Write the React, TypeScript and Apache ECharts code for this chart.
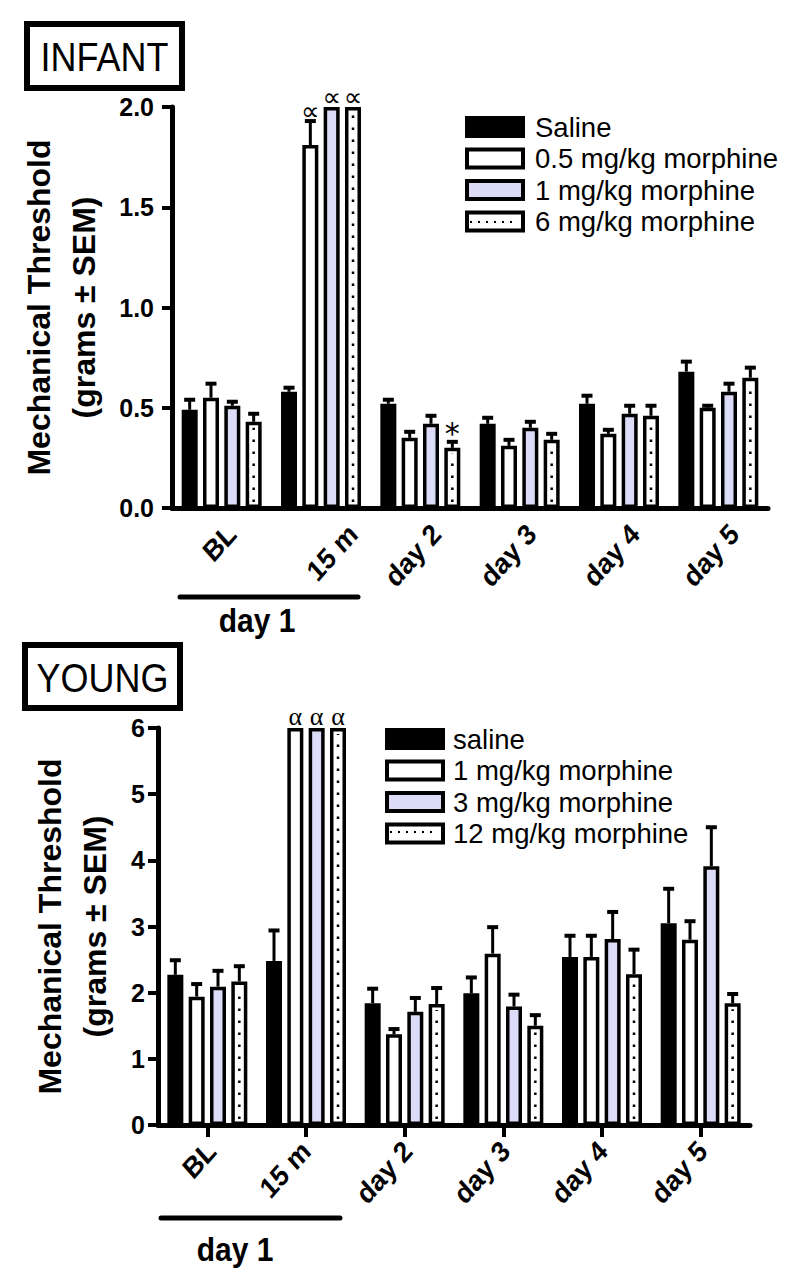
import React, { useEffect, useRef } from 'react';
import * as echarts from 'echarts';

// ---------- DATA ----------
const categories = ['BL', '15 m', 'day 2', 'day 3', 'day 4', 'day 5'];

const infantNames = ['Saline', '0.5 mg/kg morphine', '1 mg/kg morphine', '6 mg/kg morphine'];
const infantSaline = [0.49, 0.58, 0.52, 0.42, 0.52, 0.68];
const infantSalineSem = [0.05, 0.02, 0.02, 0.03, 0.04, 0.05];
const infantLow = [0.55, 1.81, 0.35, 0.31, 0.37, 0.5];
const infantLowSem = [0.07, 0.12, 0.03, 0.03, 0.02, 0.01];
const infantMid = [0.51, 2.0, 0.42, 0.4, 0.47, 0.58];
const infantMidSem = [0.02, 0, 0.04, 0.03, 0.04, 0.04];
const infantHigh = [0.43, 2.0, 0.3, 0.34, 0.46, 0.65];
const infantHighSem = [0.04, 0, 0.03, 0.03, 0.05, 0.05];
const infantMarksSaline = ['', '', '', '', '', ''];
const infantMarksLow = ['', '∝', '', '', '', ''];
const infantMarksMid = ['', '∝', '', '', '', ''];
const infantMarksHigh = ['', '∝', '*', '', '', ''];
const infantTicks = [0, 0.5, 1.0, 1.5, 2.0];

const youngNames = ['saline', '1 mg/kg morphine', '3 mg/kg morphine', '12 mg/kg morphine'];
const youngSaline = [2.27, 2.48, 1.84, 1.99, 2.54, 3.05];
const youngSalineSem = [0.22, 0.46, 0.22, 0.24, 0.32, 0.52];
const youngLow = [1.94, 6, 1.37, 2.59, 2.54, 2.8];
const youngLowSem = [0.19, 0, 0.08, 0.4, 0.32, 0.28];
const youngMid = [2.09, 6, 1.71, 1.79, 2.81, 3.91];
const youngMidSem = [0.24, 0, 0.21, 0.18, 0.41, 0.59];
const youngHigh = [2.17, 6, 1.83, 1.5, 2.28, 1.84];
const youngHighSem = [0.23, 0, 0.24, 0.16, 0.37, 0.14];
const youngMarksSaline = ['', '', '', '', '', ''];
const youngMarksLow = ['', 'α', '', '', '', ''];
const youngMarksMid = ['', 'α', '', '', '', ''];
const youngMarksHigh = ['', 'α', '', '', '', ''];
const youngTicks = [0, 1, 2, 3, 4, 5, 6];

const yTitle = 'Mechanical Threshold\n(grams ± SEM)';

// ---------- STYLE ----------
const FONT = '"Liberation Sans", Arial, sans-serif';
const LAV = '#dcdcf8';
const BAR_W = 16;
const GAP_RATIO = 1 / 3;
const PITCH = BAR_W * (1 + GAP_RATIO);
const BORDER = 3.5;
const STRETCH = 1.12; // the source figure is slightly taller than wide
const fills = ['#000', '#fff', LAV, '#fff'];

function overlaySeries(idx: number, values: number[], sems: number[], marks: string[], dotted: boolean, markFont: any) {
  const offset = (idx - 1.5) * PITCH;
  return {
    type: 'custom',
    silent: true,
    z: 4,
    data: values.map((v, i) => [i, v, sems[i]]),
    renderItem: (params: any, api: any) => {
      const ci = api.value(0);
      const v = api.value(1);
      const e = api.value(2);
      const base = api.coord([ci, 0]);
      const top = api.coord([ci, v]);
      const errTop = api.coord([ci, v + e]);
      const x = base[0] + offset;
      const children: any[] = [];
      if (dotted) {
        children.push({
          type: 'line',
          shape: { x1: x, y1: base[1] - 6, x2: x, y2: top[1] + 6 },
          style: { stroke: '#000', lineWidth: 2.5, lineDash: [2.5, 9.5] },
        });
      }
      if (e > 0) {
        children.push({
          type: 'line',
          shape: { x1: x, y1: top[1], x2: x, y2: errTop[1] },
          style: { stroke: '#000', lineWidth: 3 },
        });
        children.push({
          type: 'line',
          shape: { x1: x - 5.5, y1: errTop[1], x2: x + 5.5, y2: errTop[1] },
          style: { stroke: '#000', lineWidth: 4 },
        });
      }
      const m = marks[params.dataIndex];
      if (m) {
        const star = m === '*';
        children.push({
          type: 'text',
          x: x,
          y: star ? errTop[1] - 8 : errTop[1] + markFont.dy,
          style: {
            text: m,
            fill: '#000',
            align: 'center',
            verticalAlign: star ? 'middle' : 'bottom',
            fontSize: star ? 30 : markFont.size,
            fontFamily: star ? '"DejaVu Sans", sans-serif' : markFont.family,
          },
        });
      }
      return { type: 'group', children };
    },
  };
}

function barSeries(idx: number, name: string, values: number[]) {
  return {
    type: 'bar',
    name,
    data: values,
    barWidth: BAR_W,
    barGap: (GAP_RATIO * 100).toFixed(1) + '%',
    z: 2,
    itemStyle: { color: fills[idx], borderColor: '#000', borderWidth: BORDER },
  };
}

function legendData(names: string[]) {
  return names.map((n, i) => ({
    name: n,
    icon: 'rect',
    itemStyle: { color: fills[i], borderColor: '#000', borderWidth: 4 },
  }));
}

const axisLabelBase = { color: '#000', fontFamily: FONT, fontWeight: 'bold', fontSize: 25 };

function buildOption(cfg: any) {
  const series: any[] = [];
  cfg.values.forEach((vals: number[], i: number) => series.push(barSeries(i, cfg.names[i], vals)));
  cfg.values.forEach((vals: number[], i: number) =>
    series.push(overlaySeries(i, vals, cfg.sems[i], cfg.marks[i], i === 3, cfg.markFont))
  );
  return {
    animation: false,
    backgroundColor: '#fff',
    grid: cfg.grid,
    legend: {
      orient: 'vertical',
      left: cfg.legendPos[0],
      top: cfg.legendPos[1],
      padding: 0,
      itemWidth: 56,
      itemHeight: 18,
      itemGap: 3.5,
      selectedMode: false,
      textStyle: { fontSize: 27.5, fontFamily: FONT, color: '#000', lineHeight: 28, padding: [0, 0, 0, cfg.legendTextGap] },
      data: legendData(cfg.names),
    },
    xAxis: {
      type: 'category',
      data: categories,
      boundaryGap: true,
      axisLine: { lineStyle: { color: '#000', width: 5, cap: 'round' } },
      axisTick: cfg.xTick,
      axisLabel: { show: false },
    },
    yAxis: {
      type: 'value',
      min: cfg.ticks[0],
      max: cfg.ticks[cfg.ticks.length - 1],
      interval: cfg.ticks[1] - cfg.ticks[0],
      name: yTitle,
      nameLocation: 'middle',
      nameRotate: 90,
      nameGap: cfg.nameGap,
      nameTextStyle: { color: '#000', fontFamily: FONT, fontWeight: 'bold', fontSize: 32, lineHeight: 45, align: 'center' },
      splitLine: { show: false },
      axisLine: { show: true, lineStyle: { color: '#000', width: 5 } },
      axisTick: { show: true, length: 10, lineStyle: { color: '#000', width: 4 } },
      axisLabel: { ...axisLabelBase, margin: cfg.yMargin, formatter: cfg.yFormat },
    },
    series,
  };
}

function boxTitle(text: string, x: number, y: number, w: number, h: number) {
  return [
    { type: 'rect', shape: { x, y, width: w, height: h }, style: { fill: 'none', stroke: '#000', lineWidth: 6 } },
    {
      type: 'group', x: x + w / 2, y: y + h / 2 + 1, scaleY: STRETCH,
      children: [{ type: 'text', x: 0, y: 0, style: { text, fontSize: 36, fontFamily: FONT, fill: '#000', align: 'center', verticalAlign: 'middle' } }],
    },
  ];
}

function groupLabel(text: string, x: number, y: number) {
  return {
    type: 'group', x, y, scaleY: 1.08,
    children: [{ type: 'text', x: 0, y: 0, style: { text, fontSize: 30, fontWeight: 'bold', fontFamily: FONT, fill: '#000', align: 'center', verticalAlign: 'middle' } }],
  };
}

const topCfg = {
  names: infantNames,
  values: [infantSaline, infantLow, infantMid, infantHigh],
  sems: [infantSalineSem, infantLowSem, infantMidSem, infantHighSem],
  marks: [infantMarksSaline, infantMarksLow, infantMarksMid, infantMarksHigh],
  markFont: { size: 26, family: '"DejaVu Sans", sans-serif', dy: 3 },
  ticks: infantTicks,
  yFormat: (v: number) => v.toFixed(1),
  grid: { left: 172, right: 27, top: 107, bottom: 132 },
  legendPos: [465, 113],
  legendTextGap: 7,
  xTick: { show: false },
  labelDx: [10, 32, 16, 12, 16, 16],
  labelDy: 21,
  yMargin: 18,
  nameGap: 66,
  graphic: [
    ...boxTitle('INFANT', 27, 24, 155, 64),
    { type: 'line', shape: { x1: 180, y1: 597, x2: 358, y2: 597 }, style: { stroke: '#000', lineWidth: 5, lineCap: 'round' } },
    groupLabel('day 1', 257, 621),
    { type: 'line', z: 100, shape: { x1: 470, y1: 222, x2: 518, y2: 222 }, style: { stroke: '#000', lineWidth: 2, lineDash: [2, 6] } },
  ],
};

const bottomCfg = {
  names: youngNames,
  values: [youngSaline, youngLow, youngMid, youngHigh],
  sems: [youngSalineSem, youngLowSem, youngMidSem, youngHighSem],
  marks: [youngMarksSaline, youngMarksLow, youngMarksMid, youngMarksHigh],
  markFont: { size: 26, family: '"Liberation Serif", serif', dy: 1 },
  ticks: youngTicks,
  yFormat: (v: number) => String(v),
  grid: { left: 158, right: 45, top: 88, bottom: 156 },
  legendPos: [385, 85],
  legendTextGap: 5,
  xTick: { show: true, alignWithLabel: true, length: 12, lineStyle: { color: '#000', width: 4 } },
  labelDx: [4, 0, 3, 2, 1, 2],
  labelDy: 21,
  yMargin: 13,
  nameGap: 41,
  graphic: [
    ...boxTitle('YOUNG', 25, 5, 155, 63),
    { type: 'line', shape: { x1: 161, y1: 578, x2: 340, y2: 578 }, style: { stroke: '#000', lineWidth: 5, lineCap: 'round' } },
    groupLabel('day 1', 235, 610),
    { type: 'line', z: 100, shape: { x1: 390, y1: 192, x2: 436, y2: 192 }, style: { stroke: '#000', lineWidth: 2, lineDash: [2, 6] } },
  ],
};

function Panel({ cfg, height }: { cfg: any; height: number }) {
  const ref = useRef<HTMLDivElement>(null);
  useEffect(() => {
    const chart = echarts.init(ref.current as HTMLDivElement, null, { renderer: 'svg' });
    chart.setOption(buildOption(cfg));
    // category tick labels, placed from the category axis positions
    const labels = categories.map((c, i) => {
      const p = chart.convertToPixel({ gridIndex: 0 }, [i, 0]) as number[];
      return {
        type: 'group',
        x: p[0] + cfg.labelDx[i],
        y: p[1] + cfg.labelDy,
        scaleY: STRETCH,
        children: [
          {
            type: 'text',
            x: 0,
            y: 0,
            rotation: Math.PI / 4,
            style: { text: c, fontSize: 26, fontWeight: 'bold', fontFamily: FONT, fill: '#000', align: 'right', verticalAlign: 'middle' },
          },
        ],
      };
    });
    chart.setOption({ graphic: [...cfg.graphic, ...labels] });
    return () => chart.dispose();
  }, [cfg]);
  return <div ref={ref} style={{ width: 795, height }} />;
}

export default function App() {
  return (
    <div style={{ position: 'absolute', left: 0, top: 0, width: 795, height: 1281, background: '#fff' }}>
      <Panel cfg={topCfg} height={640} />
      <Panel cfg={bottomCfg} height={641} />
    </div>
  );
}
